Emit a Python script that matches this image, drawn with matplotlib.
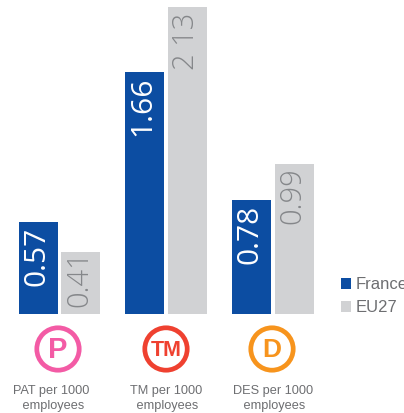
import matplotlib
matplotlib.use("Agg")
import matplotlib.pyplot as plt
from matplotlib.patches import Circle, Rectangle

categories = ["PAT per 1000\n employees", "TM per 1000\n employees", "DES per 1000\n employees"]
icons = ["P", "TM", "D"]
icon_colors = ["#F35BA5", "#EF4130", "#F7941D"]
series_names = ["France", "EU27"]
# Bar heights as drawn in the picture, and the labels printed on them
france_heights = [0.63, 1.66, 0.78]
eu27_heights = [0.425, 2.105, 1.03]
france_labels = ["0.57", "1.66", "0.78"]
eu27_labels = ["0.41", "2 13", "0.99"]

BLUE = "#0C4DA2"
GREY = "#D1D2D4"
TEXT = "#6D6E71"
W, H = 404, 414
plt.rcParams["font.family"] = ["Liberation Sans", "DejaVu Sans"]

fig = plt.figure(figsize=(W / 100, H / 100), dpi=100)
fig.patch.set_facecolor("white")

# Overlay in pixel coordinates for icons, captions and legend
ov = fig.add_axes([0, 0, 1, 1])
ov.set_xlim(0, W)
ov.set_ylim(H, 0)
ov.axis("off")

# Bar axes: baseline at y=315 px, 146 px per unit, groups 106.75 px apart
ax = fig.add_axes([0, (H - 315) / H, 1, 315 / H])
ax.patch.set_alpha(0)
ax.set_ylim(0, 315 / 146)
ax.set_xlim(-59.5 / 106.75, (W - 59.5) / 106.75)
ax.axis("off")

bw = 39 / 106.75
off = 21.3 / 106.75
eu_pad = [2.2, -3.5, -2]  # label inset from the bar top, points
for i in range(len(categories)):
    ax.bar(i - off, france_heights[i], bw, color=BLUE, linewidth=0)
    ax.bar(i + off, eu27_heights[i], bw, color=GREY, linewidth=0)
    ax.annotate(france_labels[i], (i - off, france_heights[i]), xytext=(-1.2, -2.5), textcoords="offset points",
                rotation=90, ha="center", va="top", color="white", fontsize=21.5,
                family=["Open Sans", "DejaVu Sans"])
    ax.annotate(eu27_labels[i], (i + off, eu27_heights[i]), xytext=(-1, eu_pad[i]), textcoords="offset points",
                rotation=90, ha="center", va="top", color="#85878A", fontsize=21,
                family=["Open Sans", "DejaVu Sans"], fontweight="light")

centers = [58, 166, 272]
caption_x = [51.5, 166, 273]
icon_sizes = [21, 15.5, 19]
for cx, tx, label, icon, col, fs in zip(centers, caption_x, categories, icons, icon_colors, icon_sizes):
    ov.add_patch(Circle((cx, 350), 21.2, facecolor="white", edgecolor=col, linewidth=3.4))
    ov.text(cx, 350.5, icon, color=col, fontsize=fs, fontweight="bold", ha="center", va="center")
    ov.text(tx, 398.5, label, color=TEXT, fontsize=9.2, ha="center", va="center", linespacing=1.32)

for y, name, col in zip([284.5, 307.5], series_names, [BLUE, GREY]):
    ov.add_patch(Rectangle((341, y - 5.5), 10, 11, facecolor=col, edgecolor="none"))
    ov.text(356, y, name, color=TEXT, fontsize=12, ha="left", va="center", clip_on=True)

fig.savefig("out.png", dpi=100)
